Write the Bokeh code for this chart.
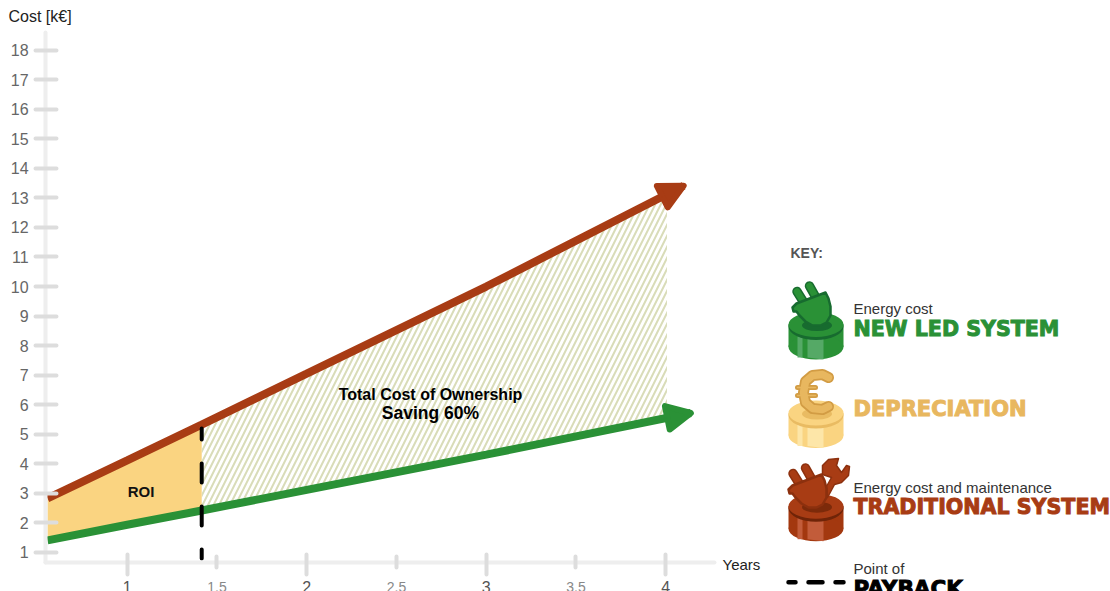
from bokeh.plotting import figure
from bokeh.embed import file_html
from bokeh.resources import INLINE
from bokeh.models import Range1d, LinearAxis, FixedTicker, Arrow, NormalHead
from bokeh.core.properties import value

# ---- data
red_years = [0.556, 1.0, 1.415, 2.0, 3.0, 4.10]
red_cost = [2.83, 4.12, 5.33, 7.05, 10.0, 13.41]
green_years = [0.556, 1.0, 1.415, 2.0, 3.0, 4.14]
green_cost = [1.41, 1.94, 2.42, 3.12, 4.31, 5.72]
payback_year = 1.415
hatch_years = [1.415, 2.0, 3.0, 4.007]
hatch_top = [5.33, 7.05, 10.0, 13.0]
hatch_bottom = [2.42, 3.12, 4.31, 5.51]
roi_years = [0.556, 1.0, 1.415]
roi_top = [2.83, 4.12, 5.33]
roi_bottom = [1.41, 1.94, 2.42]
y_ticks = list(range(1, 19))
x_major = [1, 2, 3, 4]
x_half = [1.5, 2.5, 3.5]

RED = "#a83c14"
GREEN = "#2a9136"
YELLOW = "#fad481"
GOLD = "#e8b75f"
SANS = "Liberation Sans"
HEAVY = "DejaVu Sans"

p = figure(width=1110, height=591, output_backend="svg", toolbar_location=None,
           x_range=Range1d(0.294, 6.478), y_range=Range1d(-0.32, 19.68),
           min_border=0, x_axis_type=None, y_axis_type=None, outline_line_color=None,
           background_fill_color="white", border_fill_color="white")
p.grid.visible = False
p.extra_x_ranges = {"px": Range1d(0, 1110)}
p.extra_y_ranges = {"px": Range1d(591, 0)}

# ---- axes
X0, Y0 = 0.545, 0.672
yax = LinearAxis(fixed_location=X0, ticker=FixedTicker(ticks=y_ticks), bounds=(Y0, 18.6))
yax.axis_line_color = "#eeeeee"; yax.axis_line_width = 4; yax.axis_line_cap = "round"
yax.major_tick_line_color = "#dddddd"; yax.major_tick_line_width = 4; yax.major_tick_line_cap = "round"
yax.major_tick_in = 11; yax.major_tick_out = 10; yax.minor_tick_line_color = None
yax.major_label_text_font = SANS; yax.major_label_text_font_size = "16px"
yax.major_label_text_color = "#666666"; yax.major_label_standoff = 7
p.add_layout(yax, "left")

xax = LinearAxis(fixed_location=Y0, ticker=FixedTicker(ticks=x_major), bounds=(X0, 4.273))
xax.axis_line_color = "#eeeeee"; xax.axis_line_width = 4; xax.axis_line_cap = "round"
xax.major_tick_line_color = "#dddddd"; xax.major_tick_line_width = 4; xax.major_tick_line_cap = "round"
xax.major_tick_in = 8; xax.major_tick_out = 12; xax.minor_tick_line_color = None
xax.major_label_text_font = SANS; xax.major_label_text_font_size = "16px"
xax.major_label_text_color = "#555555"; xax.major_label_standoff = 7
p.add_layout(xax, "below")

xax2 = LinearAxis(fixed_location=Y0, ticker=FixedTicker(ticks=x_half), bounds=(X0, 4.273))
xax2.axis_line_color = None
xax2.major_tick_line_color = "#dddddd"; xax2.major_tick_line_width = 4; xax2.major_tick_line_cap = "round"
xax2.major_tick_in = 6; xax2.major_tick_out = 5; xax2.minor_tick_line_color = None
xax2.major_label_text_font = SANS; xax2.major_label_text_font_size = "14px"
xax2.major_label_text_color = "#888888"; xax2.major_label_standoff = 15
p.add_layout(xax2, "below")

# ---- areas
p.varea(x=hatch_years, y1=hatch_bottom, y2=hatch_top, fill_alpha=0,
        hatch_pattern="right_diagonal_line", hatch_color="#d9dcb8", hatch_scale=11, hatch_weight=2)
p.varea(x=roi_years, y1=roi_bottom, y2=roi_top, fill_color=YELLOW)

# ---- lines and arrow heads
p.line(red_years, red_cost, line_color=RED, line_width=8)
p.line(green_years, green_cost, line_color=GREEN, line_width=8)
for xs, ys, col in ((red_years, red_cost, RED), (green_years, green_cost, GREEN)):
    head = NormalHead(size=24, fill_color=col, line_color=col, line_width=6, line_join="round")
    p.add_layout(Arrow(end=head, x_start=xs[-2], y_start=ys[-2], x_end=xs[-1], y_end=ys[-1],
                       line_color=col, line_width=1))

# ---- payback
p.line([payback_year, payback_year], [5.2, 0.8], line_color="black", line_width=4,
       line_dash="19 24", line_dash_offset=8, line_cap="round")


def txt(x, y, s, size, color, bold=False, font=SANS, align="left", outline=None):
    kw = {"text_outline_color": outline} if outline else {}
    p.text([x], [y], text=[s], x_range_name="px", y_range_name="px",
           text_font=value(font), text_font_size=f"{size}px", text_color=color,
           text_font_style="bold" if bold else "normal",
           text_align=align, text_baseline="middle", **kw)


def cylinder(dy, body, stripe, top, rim, shadow):
    cx, rx, ry = 815.5, 27.5, 12.5
    yt, yb = 324 + dy, 346.5 + dy
    p.rect([cx], [(yt + yb) / 2], width=2 * rx, height=yb - yt, fill_color=body, line_color=None,
           x_range_name="px", y_range_name="px")
    p.ellipse([cx], [yb], width=2 * rx, height=2 * ry, fill_color=body, line_color=None,
              x_range_name="px", y_range_name="px")
    for x0, x1 in ((797, 802), (807, 823)):
        ye = yb + 11.5
        p.patch([x0, x1, x1, x0], [yt + 12, yt + 12, ye + (1 if x1 == 823 else -1), ye - 1], fill_color=stripe,
                line_color=None, x_range_name="px", y_range_name="px")
    p.ellipse([cx], [yt + 2], width=2 * rx, height=2 * ry + 2, fill_color=rim, line_color=None,
              x_range_name="px", y_range_name="px")
    p.ellipse([cx], [yt], width=2 * rx, height=2 * ry, fill_color=top, line_color=None,
              x_range_name="px", y_range_name="px")
    if shadow:
        p.ellipse([cx + 1], [yt + 1], width=30, height=11, fill_color=shadow, line_color=None,
                  x_range_name="px", y_range_name="px")


def plug(dx, dy, fill, dark):
    for (a, b) in (((796.5, 291), (804, 303)), ((809, 285.5), (816, 298))):
        xs, ys = [a[0] + dx, b[0] + dx], [a[1] + dy, b[1] + dy]
        p.line(xs, ys, line_color=dark, line_width=9.5, line_cap="round", x_range_name="px", y_range_name="px")
        p.line(xs, ys, line_color=fill, line_width=6.5, line_cap="round", x_range_name="px", y_range_name="px")
    bx = [792, 796, 825, 828, 830, 830, 826, 820, 812, 805, 799, 796, 793]
    by = [307, 303, 292, 298, 306, 315, 322, 325, 325, 321, 315, 311, 311]
    p.patch([x + dx for x in bx], [y + dy for y in by], fill_color=fill, line_color=dark, line_width=2.5,
            line_join="round", x_range_name="px", y_range_name="px")


def euro(dy, fill, dark):
    cx = [828, 822, 812, 805, 803, 805, 812, 822, 828]
    cy = [377, 374, 375, 381, 392, 402, 408, 409, 406]
    bars = ((797, 387, 815, 387), (797, 395, 815, 395))
    for col, w in ((dark, 11), (fill, 7.5)):
        p.line(cx, [y + dy for y in cy], line_color=col, line_width=w, line_cap="round", line_join="round",
               x_range_name="px", y_range_name="px")
        for x0, y0, x1, y1 in bars:
            p.line([x0, x1], [y0 + dy, y1 + dy], line_color=col, line_width=w - 6, line_cap="round",
                   x_range_name="px", y_range_name="px")


def wrench(fill, dark):
    wx = [826, 831, 822, 822, 828, 838, 836, 841, 846, 849, 848, 841, 834, 827]
    wy = [486, 477, 474, 465, 459, 458, 465, 472, 465, 466, 475, 482, 484, 497]
    p.patch(wx, wy, fill_color=fill, line_color=dark, line_width=1.5, line_join="round",
            x_range_name="px", y_range_name="px")


# ---- key
cylinder(0, GREEN, "#55a966", GREEN, "#176b2f", "#176b2f")
plug(0, 0, GREEN, "#176b2f")
cylinder(88.5, "#fad481", "#fde6a8", "#fad481", "#e9bb62", "#e9bb62")
euro(0, GOLD, "#d29c44")
cylinder(181.7, "#a3380f", "#c25c3a", "#a83c14", "#6f2408", "#7c2a0a")
wrench(RED, "#8c300e")
plug(-4, 182, RED, "#8c300e")

p.line([788, 843], [581.7, 581.7], x_range_name="px", y_range_name="px", line_color="black",
       line_width=4.5, line_dash="14 13", line_dash_offset=7, line_cap="round")

# ---- texts
txt(8, 16, "Cost [k€]", 16, "#222222")
txt(722, 563.5, "Years", 15, "#222222")
txt(430, 393.5, "Total Cost of Ownership", 16, "#000000", bold=True, align="center")
txt(430, 412.5, "Saving 60%", 17.5, "#000000", bold=True, align="center")
txt(140.5, 491, "ROI", 15, "#111111", bold=True, align="center")
txt(790, 252, "KEY:", 14, "#555555", bold=True)
txt(853, 308, "Energy cost", 15, "#333333")
txt(853, 328, "NEW LED SYSTEM", 20.6, GREEN, bold=True, font=HEAVY, outline=GREEN)
txt(853, 408, "DEPRECIATION", 21, GOLD, bold=True, font=HEAVY, outline=GOLD)
txt(853, 487, "Energy cost and maintenance", 15, "#333333")
txt(853, 506, "TRADITIONAL SYSTEM", 20.6, RED, bold=True, font=HEAVY, outline=RED)
txt(853, 568, "Point of", 15, "#333333")
txt(853, 587.5, "PAYBACK", 21.5, "#000000", bold=True, font=HEAVY, outline="#000000")

open("out.html", "w").write(file_html(p, INLINE))
